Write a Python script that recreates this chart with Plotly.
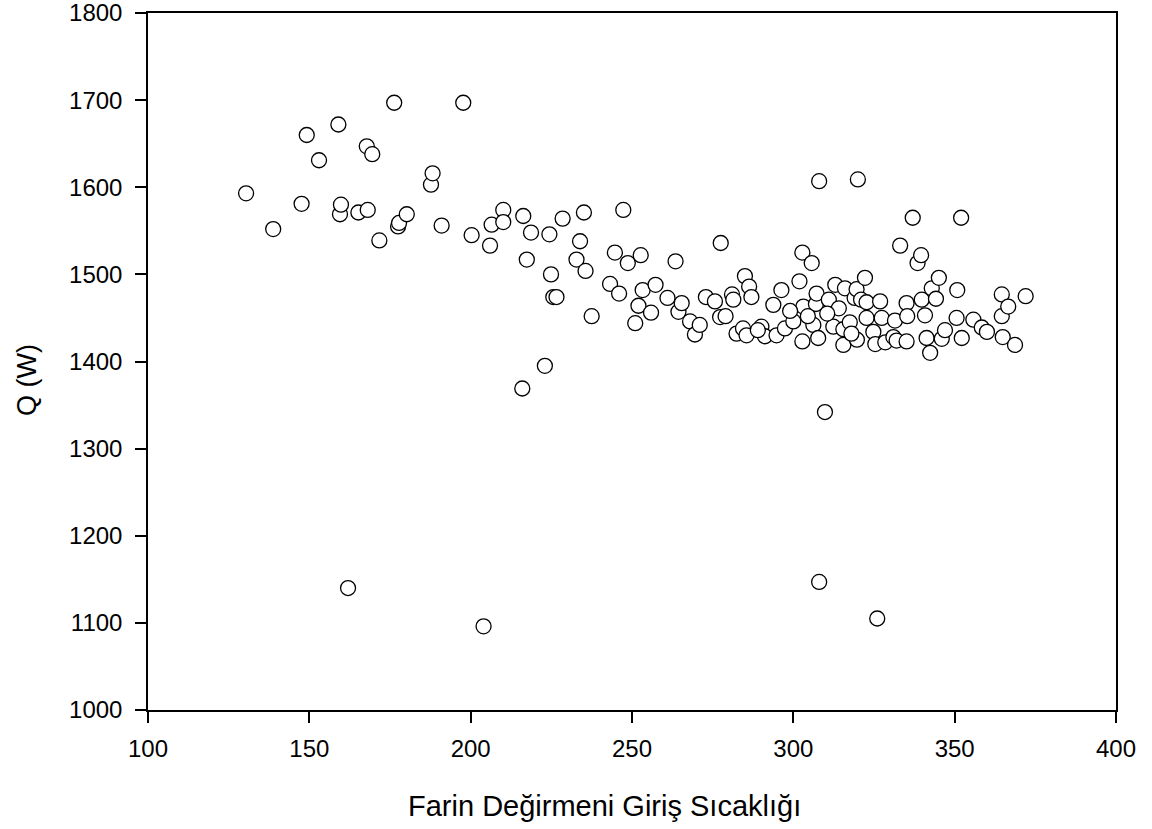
import plotly.graph_objects as go

x_vals = [
    130.4, 138.8, 147.6, 149.2, 153.0, 159.0, 159.5, 159.8, 162.0, 165.2, 167.8, 168.1, 169.5, 171.7,
    176.3, 177.5, 177.8, 180.2, 187.7, 188.2, 191.0, 197.7, 200.3, 204.0, 206.0, 206.5, 210.1, 210.1,
    216.3, 216.0, 217.4, 218.7, 223.0, 224.4, 224.9, 225.6, 226.6, 228.5, 232.8, 233.9, 235.1, 235.6,
    237.5, 243.2, 244.7, 246.0, 247.3, 248.7, 251.0, 252.0, 252.7, 253.3, 255.9, 257.3, 261.0, 263.5,
    264.4, 265.4, 268.0, 269.5, 271.0, 272.9, 275.7, 277.3, 277.5, 281.0, 281.4, 282.4, 284.4, 285.0,
    285.5, 286.3, 287.0, 290.1, 291.2, 293.8, 294.8, 296.3, 297.4, 300.0, 301.9, 302.8, 302.8, 303.1,
    305.7, 306.2, 307.0, 307.2, 307.7, 308.0, 308.0, 309.8, 311.0, 312.4, 313.0, 314.1, 315.5, 315.5,
    316.0, 319.0, 319.6, 319.7, 320.0, 321.0, 322.2, 322.7, 322.7, 324.8, 325.4, 326.0, 326.9, 327.4,
    328.5, 331.0, 331.5, 332.0, 333.1, 335.1, 335.1, 335.3, 337.0, 338.5, 339.6, 339.8, 340.8, 341.3,
    342.4, 342.9, 344.2, 345.1, 346.0, 347.0, 350.6, 350.8, 352.0, 352.2, 355.8, 358.4, 360.0, 364.6,
    364.6, 364.9, 366.6, 368.7, 372.0, 310.5, 317.5, 318.0, 304.5, 299.0, 289.0, 279.0
]
q_vals = [
    1593, 1552, 1581, 1660, 1631, 1672, 1569, 1580, 1140, 1571, 1647, 1574, 1638, 1539,
    1697, 1555, 1559, 1569, 1603, 1616, 1556, 1697, 1545, 1096, 1533, 1557, 1574, 1560,
    1567, 1369, 1517, 1548, 1395, 1546, 1500, 1474, 1474, 1564, 1517, 1538, 1571, 1504,
    1452, 1489, 1525, 1478, 1574, 1513, 1444, 1464, 1522, 1482, 1456, 1488, 1473, 1515,
    1457, 1467, 1446, 1431, 1442, 1474, 1469, 1451, 1536, 1477, 1471, 1432, 1438, 1498,
    1430, 1486, 1474, 1440, 1429, 1465, 1430, 1482, 1438, 1446, 1492, 1525, 1423, 1463,
    1513, 1442, 1466, 1478, 1427, 1607, 1147, 1342, 1471, 1440, 1488, 1461, 1419, 1437,
    1484, 1473, 1483, 1425, 1609, 1471, 1496, 1468, 1450, 1434, 1420, 1105, 1469, 1450,
    1422, 1428, 1447, 1424, 1533, 1467, 1423, 1452, 1565, 1513, 1522, 1471, 1453, 1427,
    1410, 1484, 1472, 1496, 1426, 1436, 1450, 1482, 1565, 1427, 1448, 1439, 1434, 1477,
    1452, 1428, 1463, 1419, 1475, 1455, 1445, 1432, 1452, 1458, 1436, 1452
]

x_ticks = [100, 150, 200, 250, 300, 350, 400]
y_ticks = [1000, 1100, 1200, 1300, 1400, 1500, 1600, 1700, 1800]
x_title = "Farin Değirmeni Giriş Sıcaklığı"
y_title = "Q (W)"

FONT = "Liberation Sans, Arial, sans-serif"

fig = go.Figure()
fig.add_trace(go.Scatter(
    x=x_vals, y=q_vals, mode="markers",
    marker=dict(symbol="circle", size=15, color="white",
                line=dict(color="black", width=1.3)),
    showlegend=False,
))

axis_common = dict(
    showline=True, linecolor="black", linewidth=1.5, mirror=True,
    ticks="outside", ticklen=11, tickwidth=1.5, tickcolor="black",
    showgrid=False, zeroline=False, automargin=False,
    ticklabeloverflow="allow",
    tickfont=dict(family=FONT, size=24, color="black"),
)

fig.update_layout(
    width=1152, height=829,
    margin=dict(l=148, r=36, t=13, b=119),
    paper_bgcolor="white", plot_bgcolor="white",
    xaxis=dict(range=[100, 400], tickvals=x_ticks, ticklabelstandoff=5, **axis_common),
    yaxis=dict(range=[1000, 1800], tickvals=y_ticks, ticklabelstandoff=8, **axis_common),
    annotations=[
        dict(text=x_title, xref="paper", yref="paper", x=(604 - 148) / 968, y=-(806 - 710) / 697,
             xanchor="center", yanchor="middle", showarrow=False,
             font=dict(family=FONT, size=29, color="black")),
        dict(text=y_title, xref="paper", yref="paper", x=-(148 - 27) / 968, y=(710 - 380) / 697,
             xanchor="center", yanchor="middle", showarrow=False, textangle=-90,
             font=dict(family=FONT, size=27, color="black")),
    ],
)

fig.write_html("out.html")
